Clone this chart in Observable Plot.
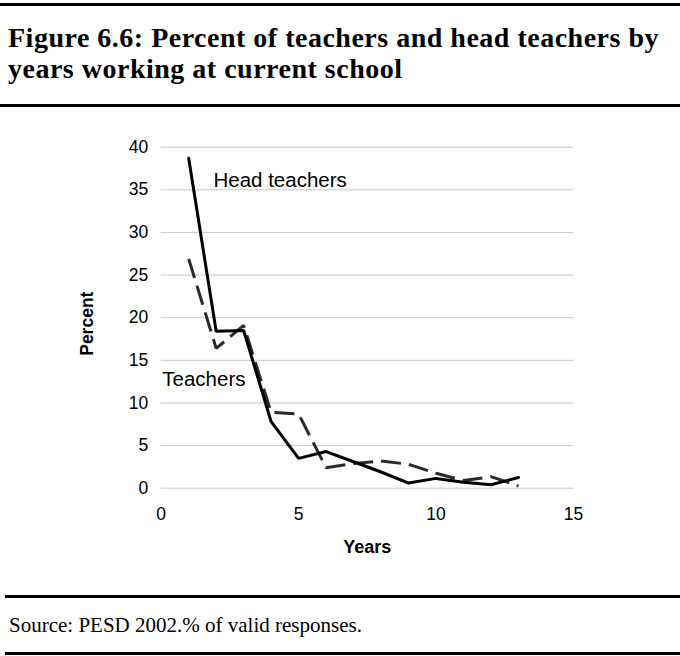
<!DOCTYPE html>
<html>
<head>
<meta charset="utf-8">
<script src="https://cdn.jsdelivr.net/npm/d3@7"></script>
<script src="https://cdn.jsdelivr.net/npm/@observablehq/plot@0.6"></script>
<style>
  html, body { margin: 0; padding: 0; background: #fff; }
  #page { position: relative; width: 680px; height: 656px; overflow: hidden; background: #fff; }
  .rule { position: absolute; background: #000; height: 3px; z-index: 5; }
  #title { position: absolute; left: 8px; top: 22px; width: 670px; font-family: "Liberation Serif", "Times New Roman", serif;
           font-weight: bold; font-size: 28px; line-height: 31px; letter-spacing: 0.5px; color: #000; white-space: nowrap; }
  #source { position: absolute; left: 9px; top: 613px; font-family: "Liberation Serif", "Times New Roman", serif;
            font-size: 21px; line-height: 24px; color: #000; white-space: nowrap; }
  #chart { position: absolute; left: 0; top: 107px; }
</style>
</head>
<body>
<div id="page">
  <div class="rule" style="left:0;width:680px;top:3px;"></div>
  <div id="title">Figure 6.6: Percent of teachers and head teachers by<br>years working at current school</div>
  <div class="rule" style="left:0;width:680px;top:104px;"></div>
  <div id="chart"></div>
  <div class="rule" style="left:5px;width:675px;top:595px;"></div>
  <div id="source">Source: PESD 2002.% of valid responses.</div>
  <div class="rule" style="left:5px;width:675px;top:652px;"></div>
</div>
<script>
// Data
const years = [1, 2, 3, 4, 5, 6, 7, 8, 9, 10, 11, 12, 13];
const headTeachers = [38.7, 18.4, 18.5, 7.8, 3.5, 4.3, 3.1, 1.9, 0.6, 1.15, 0.7, 0.4, 1.25];
const teachers = [26.9, 16.4, 19.1, 8.9, 8.7, 2.4, 2.9, 3.2, 2.8, 1.75, 0.9, 1.35, 0.25];

const xTicks = [0, 5, 10, 15];
const yTicks = [0, 5, 10, 15, 20, 25, 30, 35, 40];

const seriesLabels = ["Head teachers", "Teachers"];
const seriesLabelX = [1.9, 0.04];
const seriesLabelY = [36.15, 12.8];

const xTitle = "Years";
const yTitle = "Percent";

const headData = years.map((y, i) => ({year: y, value: headTeachers[i]}));
const teacherData = years.map((y, i) => ({year: y, value: teachers[i]}));
const labelData = seriesLabels.map((t, i) => ({text: t, x: seriesLabelX[i], y: seriesLabelY[i]}));

const font = '"Liberation Sans", Arial, Helvetica, sans-serif';

const plot = Plot.plot({
  width: 680,
  height: 488,
  marginLeft: 160.7,
  marginRight: 107,
  marginTop: 39.7,
  marginBottom: 107.3,
  style: {fontFamily: font, fontSize: "17.5px", color: "#000", background: "transparent"},
  x: {domain: [0, 15], axis: null},
  y: {domain: [0, 40], axis: null},
  marks: [
    Plot.gridY(yTicks, {stroke: "#c8c8c8", strokeOpacity: 1, strokeWidth: 1}),
    Plot.axisY(yTicks, {tickSize: 0, tickPadding: 13, fontSize: 17.5, label: null, fill: "#000"}),
    Plot.axisX(xTicks, {tickSize: 0, tickPadding: 19, fontSize: 17.5, label: null, fill: "#000"}),
    Plot.line(teacherData, {x: "year", y: "value", stroke: "#2a2a2a", strokeWidth: 3, strokeDasharray: "20,8", strokeLinejoin: "miter", strokeLinecap: "butt"}),
    Plot.line(headData, {x: "year", y: "value", stroke: "#000", strokeWidth: 3, strokeLinejoin: "miter"}),
    Plot.text(labelData, {x: "x", y: "y", text: "text", textAnchor: "start", fontSize: 20.5, fill: "#000"}),
    Plot.text([yTitle], {frameAnchor: "left", textAnchor: "middle", lineAnchor: "middle", rotate: -90, dx: -73.4, dy: 6, fontWeight: "bold", fontSize: 17.5, fill: "#000"}),
    Plot.text([xTitle], {frameAnchor: "bottom", textAnchor: "middle", lineAnchor: "middle", dy: 59, fontWeight: "bold", fontSize: 18, fill: "#000"})
  ]
});
document.getElementById("chart").appendChild(plot);
</script>
</body>
</html>
